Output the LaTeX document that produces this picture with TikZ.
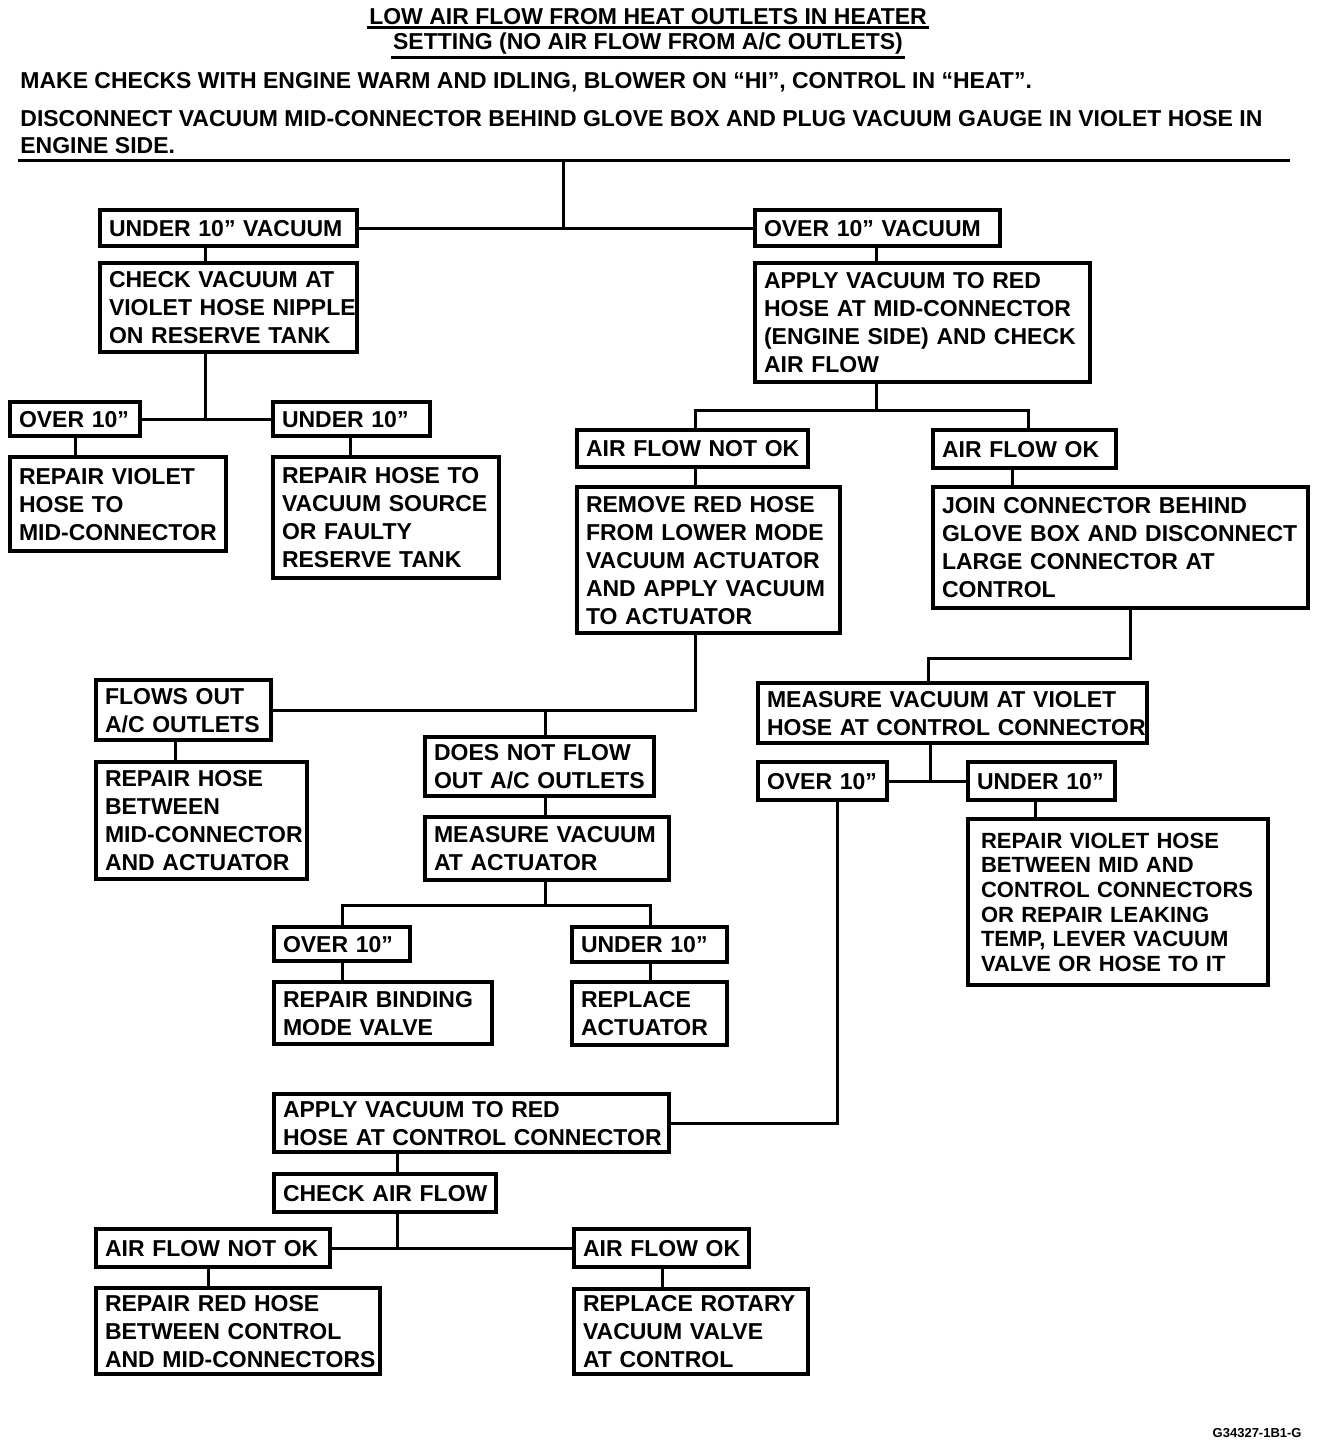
\documentclass[tikz,border=0pt]{standalone}
\usepackage{fontspec}
\setmainfont{Liberation Sans}
\tikzset{
  box/.style={draw, line width=1.7pt, align=left, inner ysep=0pt,
    font=\bfseries\fontsize{11.5}{14}\selectfont},
  wire/.style={line width=1.5pt, line cap=rect},
  head/.style={inner sep=1pt, font=\bfseries\fontsize{11.5}{14}\selectfont},
}
\def\myXS{4.5}
\newcommand\bx[7][]{%
  \pgfmathsetmacro\myBW{(#5-#3)*0.5}%
  \pgfmathsetmacro\myBH{(#6-#4)*0.5}%
  \pgfmathsetmacro\myTW{(#5-#3)*0.5-2*\myXS}%
  \node[box, inner xsep=\myXS pt, minimum width=\myBW pt, minimum height=\myBH pt, text width=\myTW pt, #1]
    (#2) at ({(#3+#5)/2},{(#4+#6)/2}) {\raisebox{-1.4pt}[\height][\depth]{\begin{tabular}{@{}l@{}}#7\end{tabular}}};%
}
\begin{document}
\begin{tikzpicture}[x=0.5pt, y=-0.5pt]
\useasboundingbox (0,0) rectangle (1328,1446);

% heading
\node[head] (t1) at (648,17) {LOW AIR FLOW FROM HEAT OUTLETS IN HEATER};
\node[head] (t2) at (648,44) {SETTING (NO AIR FLOW FROM A/C OUTLETS)};
\draw[line width=1.5pt] (t1.south west) -- (t1.south east);
\draw[line width=1.5pt] (t2.south west) -- (t2.south east);
\node[head, anchor=base west] (l3) at (18,88) {MAKE CHECKS WITH ENGINE WARM AND IDLING, BLOWER ON ``HI'', CONTROL IN ``HEAT''.};
\node[head, anchor=base west] (l4) at (18,126) {DISCONNECT VACUUM MID-CONNECTOR BEHIND GLOVE BOX AND PLUG VACUUM GAUGE IN VIOLET HOSE IN};
\node[head, anchor=base west] (l5) at (18,153) {ENGINE SIDE.};
\coordinate (rl) at (18,160);
\coordinate (rr) at (1290,160);
\coordinate (rc) at (563,160);
\draw[line width=1.5pt] (rl) -- (rr);

% boxes
\bx{uv}{100}{210}{357}{246}{UNDER 10'' VACUUM}
\bx{cva}{100}{263}{357}{352}{CHECK VACUUM AT\\VIOLET HOSE NIPPLE\\ON RESERVE TANK}
\bx{oa}{10}{402}{140}{436}{OVER 10''}
\bx{ua}{273}{402}{430}{436}{UNDER 10''}
\bx{rvh}{10}{457}{226}{551}{REPAIR VIOLET\\HOSE TO\\MID-CONNECTOR}
\bx{rhv}{273}{457}{499}{578}{REPAIR HOSE TO\\VACUUM SOURCE\\OR FAULTY\\RESERVE TANK}
\bx{ov}{755}{210}{1000}{246}{OVER 10'' VACUUM}
\bx{avr}{755}{263}{1090}{382}{APPLY VACUUM TO RED\\HOSE AT MID-CONNECTOR\\(ENGINE SIDE) AND CHECK\\AIR FLOW}
\bx{afn}{577}{430}{808}{467}{AIR FLOW NOT OK}
\bx{afo}{933}{430}{1116}{468}{AIR FLOW OK}
\bx{rrh}{577}{487}{840}{633}{REMOVE RED HOSE\\FROM LOWER MODE\\VACUUM ACTUATOR\\AND APPLY VACUUM\\TO ACTUATOR}
\bx{jc}{933}{487}{1308}{608}{JOIN CONNECTOR BEHIND\\GLOVE BOX AND DISCONNECT\\LARGE CONNECTOR AT\\CONTROL}
\bx{foa}{96}{680}{271}{740}{FLOWS OUT\\A/C OUTLETS}
\bx{rhb}{96}{762}{307}{879}{REPAIR HOSE\\BETWEEN\\MID-CONNECTOR\\AND ACTUATOR}
\bx{dnf}{425}{737}{654}{796}{DOES NOT FLOW\\OUT A/C OUTLETS}
\bx{mva}{425}{817}{669}{880}{MEASURE VACUUM\\AT ACTUATOR}
\bx{ob}{274}{927}{410}{961}{OVER 10''}
\bx{ub}{572}{927}{727}{962}{UNDER 10''}
\bx{rbm}{274}{982}{492}{1044}{REPAIR BINDING\\MODE VALVE}
\bx{ra}{572}{982}{727}{1045}{REPLACE\\ACTUATOR}
\bx{mvv}{758}{683}{1147}{743}{MEASURE VACUUM AT VIOLET\\HOSE AT CONTROL CONNECTOR}
\bx{oc}{758}{762}{887}{800}{OVER 10''}
\bx{uc}{968}{762}{1115}{800}{UNDER 10''}
\def\myXS{6.5}
\bx[font=\bfseries\fontsize{11}{12.3}\selectfont]{rvb}{968}{819}{1268}{985}{REPAIR VIOLET HOSE\\BETWEEN MID AND\\CONTROL CONNECTORS\\OR REPAIR LEAKING\\TEMP, LEVER VACUUM\\VALVE OR HOSE TO IT}
\def\myXS{4.5}
\bx{avc}{274}{1094}{669}{1152}{APPLY VACUUM TO RED\\HOSE AT CONTROL CONNECTOR}
\bx{caf}{274}{1174}{496}{1212}{CHECK AIR FLOW}
\bx{afn2}{96}{1229}{330}{1267}{AIR FLOW NOT OK}
\bx{afo2}{574}{1229}{749}{1267}{AIR FLOW OK}
\bx{rrb}{96}{1288}{380}{1374}{REPAIR RED HOSE\\BETWEEN CONTROL\\AND MID-CONNECTORS}
\bx{rrv}{574}{1289}{808}{1374}{REPLACE ROTARY\\VACUUM VALVE\\AT CONTROL}

\node[font=\bfseries\fontsize{6.5}{8}\selectfont, anchor=east, inner sep=0pt] (fig) at (1302,1433) {G34327-1B1-G};

% junction coordinates
\coordinate (j1) at (876,410);
\coordinate (j1l) at (695,410);
\coordinate (j1r) at (1028,410);
\coordinate (j2) at (545,710);
\coordinate (j3) at (545,905);
\coordinate (j3l) at (342,905);
\coordinate (j3r) at (650,905);
\coordinate (j4) at (1130,658);
\coordinate (j4l) at (928,658);
\coordinate (j5) at (930,781);
\coordinate (j6) at (397,1248);
\coordinate (j7) at (205,419);

% connectors
\draw[wire] (rc) -- (rc |- uv.east);
\draw[wire] (uv.east) -- (ov.west);
\draw[wire] (205,0 |- uv.south) -- (205,0 |- cva.north);
\draw[wire] (205,0 |- cva.south) -- (j7);
\draw[wire] (oa.east) -- (ua.west);
\draw[wire] (75,0 |- oa.south) -- (75,0 |- rvh.north);
\draw[wire] (350,0 |- ua.south) -- (350,0 |- rhv.north);
\draw[wire] (876,0 |- ov.south) -- (876,0 |- avr.north);
\draw[wire] (876,0 |- avr.south) -- (j1);
\draw[wire] (695,0 |- afn.north) -- (j1l) -- (j1r) -- (1028,0 |- afo.north);
\draw[wire] (695,0 |- afn.south) -- (695,0 |- rrh.north);
\draw[wire] (1012,0 |- afo.south) -- (1012,0 |- jc.north);
\draw[wire] (695,0 |- rrh.south) |- (foa.east);
\draw[wire] (j2) -- (545,0 |- dnf.north);
\draw[wire] (175,0 |- foa.south) -- (175,0 |- rhb.north);
\draw[wire] (545,0 |- dnf.south) -- (545,0 |- mva.north);
\draw[wire] (545,0 |- mva.south) -- (j3);
\draw[wire] (342,0 |- ob.north) -- (j3l) -- (j3r) -- (650,0 |- ub.north);
\draw[wire] (342,0 |- ob.south) -- (342,0 |- rbm.north);
\draw[wire] (650,0 |- ub.south) -- (650,0 |- ra.north);
\draw[wire] (1130,0 |- jc.south) -- (j4) -- (j4l) -- (928,0 |- mvv.north);
\draw[wire] (930,0 |- mvv.south) -- (j5);
\draw[wire] (oc.east) -- (uc.west);
\draw[wire] (1035,0 |- uc.south) -- (1035,0 |- rvb.north);
\draw[wire] (837,0 |- oc.south) |- (avc.east);
\draw[wire] (397,0 |- avc.south) -- (397,0 |- caf.north);
\draw[wire] (397,0 |- caf.south) -- (j6);
\draw[wire] (afn2.east) -- (afo2.west);
\draw[wire] (208,0 |- afn2.south) -- (208,0 |- rrb.north);
\draw[wire] (662,0 |- afo2.south) -- (662,0 |- rrv.north);
\end{tikzpicture}
\end{document}
